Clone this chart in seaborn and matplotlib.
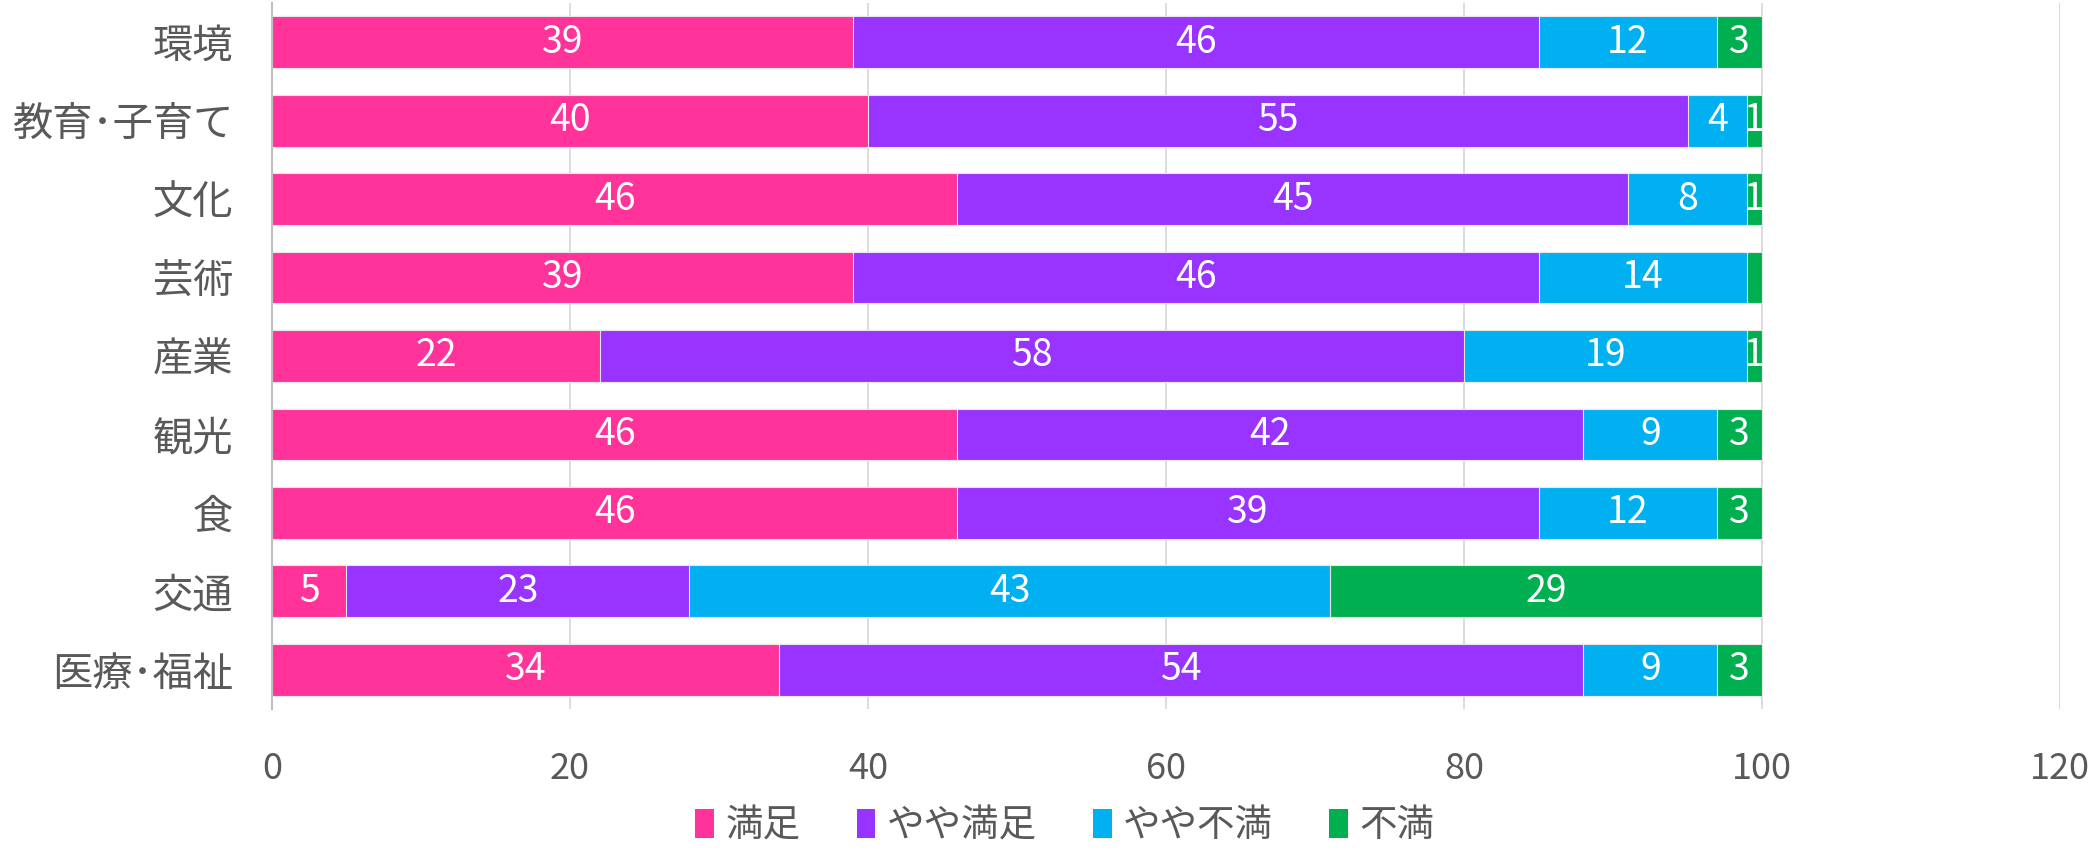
import numpy as np
import pandas as pd
import matplotlib
matplotlib.use("Agg")
import matplotlib.pyplot as plt
from matplotlib.patches import Patch
import seaborn as sns

categories = ["環境", "教育･子育て", "文化", "芸術", "産業", "観光", "食", "交通", "医療･福祉"]
series_names = ["満足", "やや満足", "やや不満", "不満"]
manzoku = [39, 40, 46, 39, 22, 46, 46, 5, 34]
yaya_manzoku = [46, 55, 45, 46, 58, 42, 39, 23, 54]
yaya_fuman = [12, 4, 8, 14, 19, 9, 12, 43, 9]
fuman = [3, 1, 1, 1, 1, 3, 3, 29, 3]
# the reference shows no label on the green segment of 芸術
hidden_labels = [("芸術", "不満")]
x_ticks = [0, 20, 40, 60, 80, 100, 120]

COLORS = ["#FF3399", "#9933FF", "#00B0F0", "#00B050"]
TEXT_GRAY = "#595959"

sns.set_style("white")
plt.rcParams["font.family"] = ["Noto Sans CJK JP", "DejaVu Sans"]

values = np.array([manzoku, yaya_manzoku, yaya_fuman, fuman], dtype=float)
cum = np.cumsum(values, axis=0)

fig = plt.figure(figsize=(21, 8.48), dpi=100)
ax = fig.add_axes([0.1295, 0.164, 0.8515, 0.8325])

# draw cumulative totals from the longest to the shortest so they stack visually
for i in range(len(series_names) - 1, -1, -1):
    df = pd.DataFrame({"category": categories, "value": cum[i]})
    sns.barplot(data=df, y="category", x="value", color=COLORS[i], width=0.66,
                saturation=1, linewidth=0.8, edgecolor="#E8E8E8", ax=ax, zorder=2)

for i, name in enumerate(series_names):
    for j, cat in enumerate(categories):
        if (cat, name) in hidden_labels:
            continue
        ax.text(cum[i, j] - values[i, j] / 2, j, f"{int(values[i, j])}",
                ha="center", va="center", color="white", fontsize=27, zorder=3)

ax.set_xlim(0, 120)
ax.set_ylim(len(categories) - 0.5, -0.5)
ax.set_xticks(x_ticks)
ax.set_xlabel("")
ax.set_ylabel("")
ax.grid(axis="x", color="#D9D9D9", linewidth=1.3, zorder=0)
ax.set_axisbelow(True)
for side in ["top", "right", "bottom"]:
    ax.spines[side].set_visible(False)
ax.spines["left"].set_color("#BFBFBF")
ax.spines["left"].set_linewidth(1.5)
ax.tick_params(axis="x", length=0, pad=30, labelsize=26, labelcolor=TEXT_GRAY)
ax.tick_params(axis="y", length=0, pad=28, labelsize=29, labelcolor=TEXT_GRAY)

handles = [Patch(facecolor=c, edgecolor="none") for c in COLORS]
fig.legend(handles, series_names, loc="lower center", bbox_to_anchor=(0.507, -0.028),
           ncol=4, frameon=False, fontsize=27, labelcolor=TEXT_GRAY,
           handlelength=0.5, handleheight=0.85, handletextpad=0.3, columnspacing=1.5,
           borderpad=0.2)

fig.savefig("out.png", dpi=100)
